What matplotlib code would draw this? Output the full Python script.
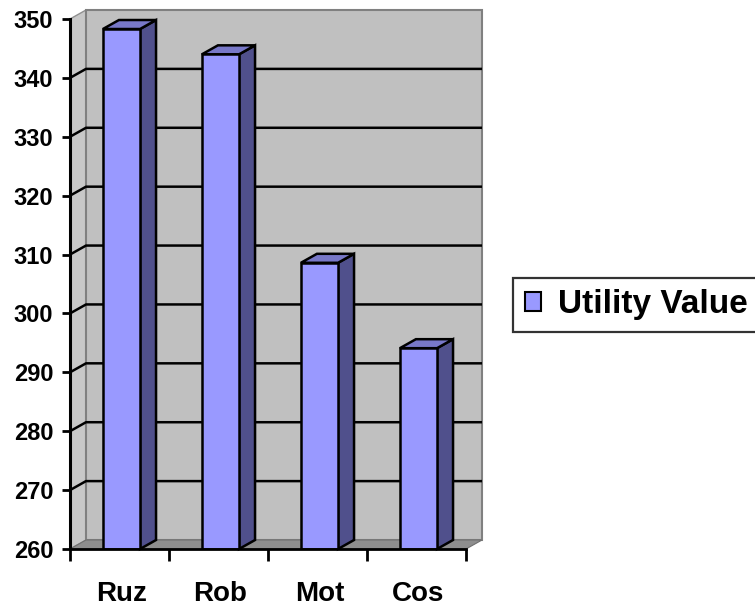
import matplotlib
matplotlib.use("Agg")
import matplotlib.pyplot as plt
from matplotlib.patches import Polygon, Patch

players = ["Ruz", "Rob", "Mot", "Cos"]
utility = [348.3, 344.0, 308.6, 294.1]
y_ticks = [260, 270, 280, 290, 300, 310, 320, 330, 340, 350]
series_name = "Utility Value"

FRONT = "#9999FF"
SIDE = "#50508C"
TOP = "#7878C8"
WALL = "#C0C0C0"
FLOOR = "#8E8E8E"

plt.rcParams["font.family"] = ["Liberation Sans", "DejaVu Sans"]
plt.rcParams["font.weight"] = "bold"

fig = plt.figure(figsize=(7.55, 6.07), dpi=100)
ax = fig.add_axes([70 / 755, 58 / 607, 396 / 755, 530 / 607])
ymin, ymax = y_ticks[0], y_ticks[-1]
n = len(players)
ax.set_xlim(0, n)
ax.set_ylim(ymin, ymax)

# depth of the fake 3d box in data units
dx = 16 / 99
dy = 9 / (530 / 90)

# walls and floor
left_wall = Polygon([(0, ymin), (dx, ymin + dy), (dx, ymax + dy), (0, ymax)],
                    closed=True, facecolor="#C8C8C8", edgecolor="#909090",
                    lw=1, zorder=0, clip_on=False)
back_wall = Polygon([(dx, ymin + dy), (n + dx, ymin + dy), (n + dx, ymax + dy), (dx, ymax + dy)],
                    closed=True, facecolor=WALL, edgecolor="#808080",
                    lw=1.5, zorder=0, clip_on=False)
floor = Polygon([(0, ymin), (n, ymin), (n + dx, ymin + dy), (dx, ymin + dy)],
                closed=True, facecolor=FLOOR, edgecolor="#707070",
                lw=0.8, zorder=1, clip_on=False)
for p in (left_wall, back_wall, floor):
    ax.add_patch(p)

# gridlines on back and side wall
for v in y_ticks[1:-1]:
    ax.plot([0, dx, n + dx], [v, v + dy, v + dy], color="black", lw=1.8,
            zorder=1, clip_on=False, solid_capstyle="butt")

# columns
width = 0.375
xs = [i + 0.52 for i in range(n)]
ax.bar(xs, [u - ymin for u in utility], bottom=ymin, width=width,
       color=FRONT, edgecolor="black", lw=1.8, zorder=4)
for x, v in zip(xs, utility):
    r = x + width / 2
    l = x - width / 2
    side = Polygon([(r, ymin), (r + dx, ymin + dy), (r + dx, v + dy), (r, v)],
                   closed=True, facecolor=SIDE, edgecolor="black", lw=1.8,
                   zorder=3, clip_on=False)
    top = Polygon([(l, v), (r, v), (r + dx, v + dy), (l + dx, v + dy)],
                  closed=True, facecolor=TOP, edgecolor="black", lw=1.8,
                  zorder=3, clip_on=False)
    ax.add_patch(side)
    ax.add_patch(top)

# axes styling
ax.set_facecolor("none")
for s in ("top", "right"):
    ax.spines[s].set_visible(False)
ax.spines["left"].set_linewidth(2.2)
ax.spines["bottom"].set_linewidth(2.0)
ax.spines["left"].set_zorder(6)
ax.spines["bottom"].set_zorder(6)

ax.set_yticks(y_ticks)
ax.tick_params(axis="y", direction="out", length=6, width=2, pad=6,
               labelsize=17)
ax.set_xticks(range(n + 1))
ax.set_xticklabels([])
ax.set_xticks(xs, minor=True)
ax.set_xticklabels(players, minor=True)
ax.tick_params(axis="x", which="major", direction="out", length=8.5, width=2)
ax.tick_params(axis="x", which="minor", length=0, pad=23, labelsize=20)

handle = Patch(facecolor=FRONT, edgecolor="black", lw=1.5)
leg = fig.legend([handle], [series_name], loc="center left",
                 bbox_to_anchor=(513 / 755, 1 - 305 / 607),
                 prop={"size": 24, "weight": "bold"}, frameon=True,
                 fancybox=False, handlelength=0.5, handleheight=0.5,
                 handletextpad=0.5, borderpad=0.35, borderaxespad=0)
leg.get_frame().set_edgecolor("black")
leg.get_frame().set_linewidth(1.6)

fig.savefig("out.png", dpi=100)
